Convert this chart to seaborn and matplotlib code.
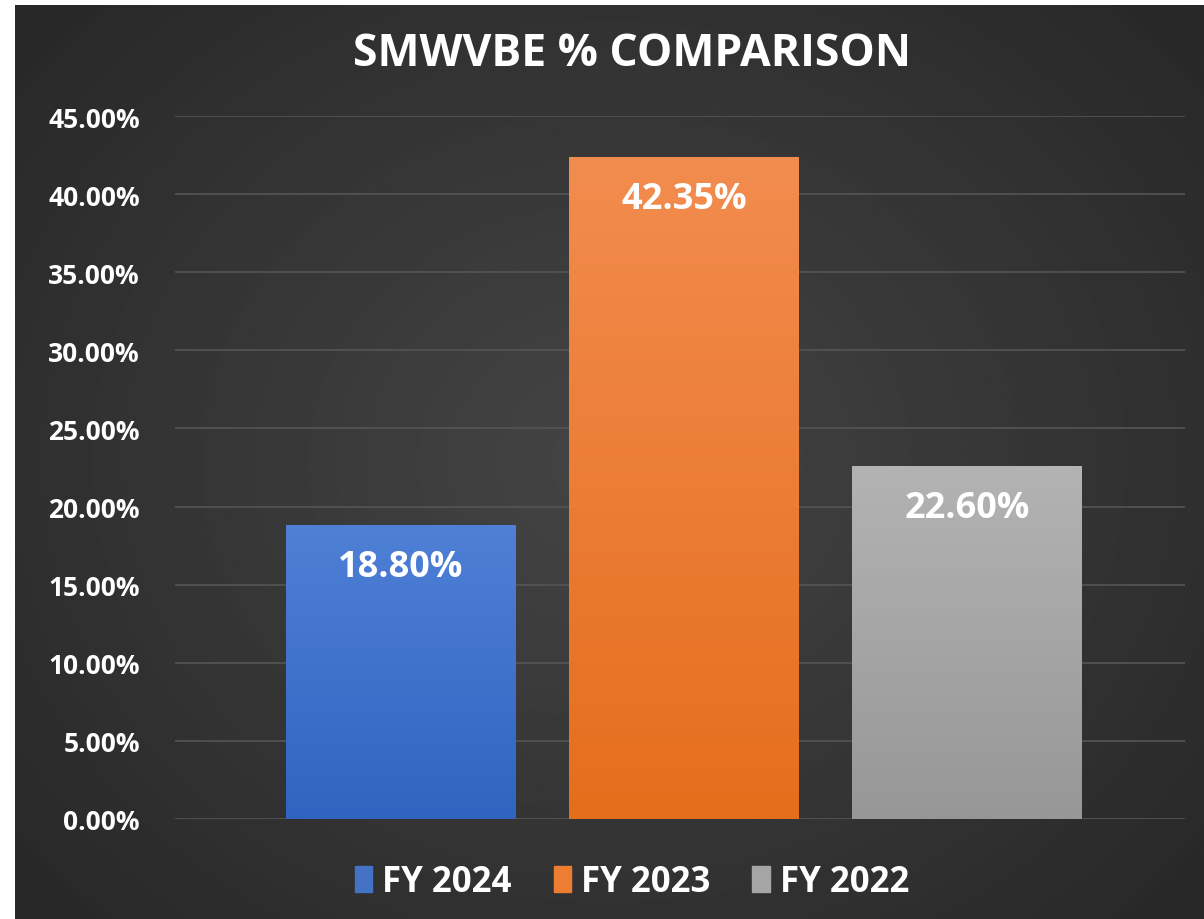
import numpy as np
import pandas as pd
import matplotlib.pyplot as plt
from matplotlib.ticker import FuncFormatter, MultipleLocator
from matplotlib.patches import Rectangle
from matplotlib.colors import LinearSegmentedColormap
import seaborn as sns

# chart data
years = ['FY 2024', 'FY 2023', 'FY 2022']
smwvbe_pct = [18.80, 42.35, 22.60]
bar_colors = ['#4472C4', '#ED7D31', '#A5A5A5']
# (top, bottom) shades for the gradient fill look
bar_shades = [('#4f80d6', '#3064c0'), ('#f28c4e', '#e56e1c'), ('#b3b3b3', '#979797')]

df = pd.DataFrame({'Year': years, 'Pct': smwvbe_pct})

sns.set_theme(style='dark')
plt.rcParams['font.family'] = ['Open Sans', 'DejaVu Sans']

fig = plt.figure(figsize=(12.04, 9.2), dpi=100, facecolor='white')

# dark radial background, with the thin white strip at top / left
bg = fig.add_axes([15 / 1204, 0, 1 - 15 / 1204, 1 - 6 / 920])
yy, xx = np.mgrid[-1:1:300j, -1:1:400j]
r = np.sqrt(xx ** 2 + (yy * 0.9) ** 2)
bg.imshow(0.27 - 0.12 * np.clip(r, 0, 1.4) / 1.4, cmap='gray', vmin=0, vmax=1,
          aspect='auto', extent=[0, 1, 0, 1])
bg.set_axis_off()

ax = fig.add_axes([0.145, 1 - 820 / 920, 0.984 - 0.145, (820 - 117) / 920])
ax.set_facecolor('none')

sns.barplot(data=df, x='Year', y='Pct', hue='Year', palette=bar_colors,
            width=0.81, saturation=1, legend=False, linewidth=0, ax=ax)

# soft vertical gradient on each bar
grad = np.linspace(0, 1, 100).reshape(-1, 1)
for patch, (top, bot) in zip(ax.patches, bar_shades):
    x0, y0 = patch.get_x(), patch.get_y()
    w, h = patch.get_width(), patch.get_height()
    cmap = LinearSegmentedColormap.from_list('g', [bot, top])
    im = ax.imshow(grad, cmap=cmap, aspect='auto', origin='lower',
                   extent=[x0, x0 + w, y0, y0 + h], zorder=patch.get_zorder() + 0.1)
    im.set_clip_path(patch)
ax.set_xlim(-0.8, 2.77)
ax.set_ylim(0, 45)

ax.yaxis.set_major_locator(MultipleLocator(5))
ax.yaxis.set_major_formatter(FuncFormatter(lambda v, p: f'{v:.2f}%'))
ax.set_xticks([])
ax.set_xlabel('')
ax.set_ylabel('')
ax.tick_params(axis='y', colors='white', labelsize=19, length=0, pad=25)
for lbl in ax.get_yticklabels():
    lbl.set_fontweight('bold')
ax.grid(True, axis='y', color='#555555', linewidth=1.2)
ax.set_axisbelow(True)
for s in ax.spines.values():
    s.set_visible(False)

# value labels inside the bar tops
for patch, v in zip(ax.patches, smwvbe_pct):
    ax.annotate(f'{v:.2f}%', (patch.get_x() + patch.get_width() / 2, v),
                xytext=(0, -30), textcoords='offset points', ha='center', va='center',
                color='white', fontsize=26, fontweight='bold', zorder=5)

fig.text(0.525, 1 - 55 / 920, 'SMWVBE % COMPARISON', color='white', fontsize=32,
         fontweight='bold', ha='center', va='center')

handles = [Rectangle((0, 0), 1, 1, color=c) for c in bar_colors]
leg = fig.legend(handles, years, loc='center', bbox_to_anchor=(0.525, 1 - 883 / 920),
                 ncol=3, frameon=False, fontsize=25, handlelength=0.5, handleheight=0.8,
                 handletextpad=0.3, columnspacing=1.2)
for t in leg.get_texts():
    t.set_color('white')
    t.set_fontweight('bold')

fig.savefig('out.png', dpi=100)
